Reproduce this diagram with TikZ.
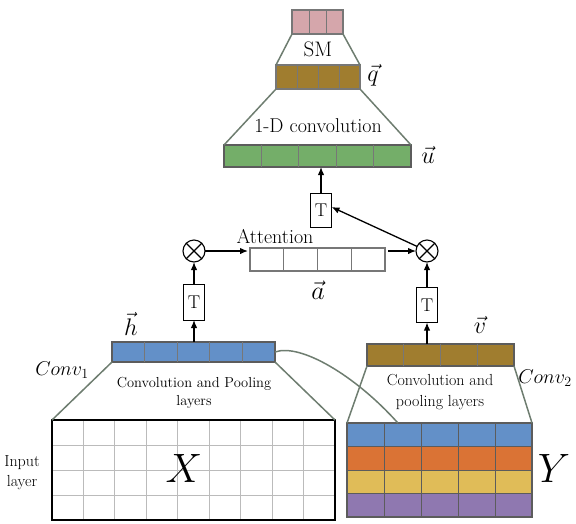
\RequirePackage{fix-cm}
\documentclass[tikz,border=0pt]{standalone}
\usepackage{fontspec}
\usetikzlibrary{arrows.meta,calc}
\definecolor{smpink}{HTML}{D5A6AB}
\definecolor{qbrown}{HTML}{A07D2F}
\definecolor{ugreen}{HTML}{74AE69}
\definecolor{hblue}{HTML}{6390C8}
\definecolor{yorange}{HTML}{DA7335}
\definecolor{yyellow}{HTML}{E0BC58}
\definecolor{ypurple}{HTML}{8F78B0}
\definecolor{edgegray}{HTML}{5C5C5C}
\definecolor{trapgray}{HTML}{6E7D70}
\definecolor{cellgray}{HTML}{777777}
\definecolor{gridgray}{HTML}{BBBBBB}

\tikzset{
  thickbar/.style={draw=edgegray, line width=2.6pt, inner sep=0pt, outer sep=0pt, rectangle},
  thinbar/.style={draw=cellgray, line width=1.2pt, inner sep=0pt, outer sep=0pt, rectangle},
  divider/.style={draw=cellgray, line width=0.9pt},
  trap/.style={draw=trapgray, line width=1.5pt},
  tbox/.style={draw=black, line width=0.8pt, fill=white, minimum width=21pt, inner sep=0pt, outer sep=0pt, font=\fontsize{18.5}{18.5}\selectfont},
  otimesnode/.style={draw=black, line width=1.1pt, circle, minimum size=22pt, inner sep=0pt, outer sep=0pt, fill=white},
  arr/.style={-{Latex[length=8pt,width=6.5pt]}, line width=1.3pt},
  lbl/.style={inner sep=0pt, align=center},
}

\newcommand{\cellbar}[8]{%
  \node[#8, fill=#7, minimum width=#4pt, minimum height=#5pt] (#1) at (#2,#3) {};
  \pgfmathtruncatemacro{\cbm}{#6-1}
  \foreach \i in {1,...,\cbm}{
    \draw[divider] ($(#1.north west)!\i/#6!(#1.north east)$) -- ($(#1.south west)!\i/#6!(#1.south east)$);
  }
}

\begin{document}
\begin{tikzpicture}[x=1pt,y=-1pt]
\useasboundingbox (0,0) rectangle (576,523);

% bars
\cellbar{sm}{317.5}{22}{51}{24}{3}{smpink}{thinbar}
\cellbar{q}{318}{77}{84}{24}{4}{qbrown}{thinbar}
\cellbar{u}{317.5}{156}{187}{22}{5}{ugreen}{thickbar}
\cellbar{att}{317.5}{259.5}{135}{23}{4}{white}{thinbar}
\cellbar{h}{193.5}{352}{163}{20}{5}{hblue}{thickbar}
\cellbar{v}{440.5}{355}{147}{22}{4}{qbrown}{thickbar}

% X input grid
\node[draw=none, fill=white, minimum width=283pt, minimum height=100pt, inner sep=0pt, outer sep=0pt] (X) at (193.5,470) {};
\foreach \k in {1,...,8}
  \draw[gridgray, line width=1pt] ($(X.north west)!\k/9!(X.north east)$) -- ($(X.south west)!\k/9!(X.south east)$);
\foreach \k in {1,...,3}
  \draw[gridgray, line width=1pt] ($(X.north west)!\k/4!(X.south west)$) -- ($(X.north east)!\k/4!(X.south east)$);
\draw[black, line width=2.6pt] (X.north west) rectangle (X.south east);

% Y grid
\node[draw=none, minimum width=185pt, minimum height=94pt, inner sep=0pt, outer sep=0pt] (Y) at (439.5,470) {};
\foreach \c [count=\r from 0] in {hblue,yorange,yyellow,ypurple}
  \fill[\c] ($(Y.north west)+(0,\r*23.5)$) rectangle ($(Y.north east)+(0,\r*23.5+23.5)$);
\foreach \k in {1,...,4}
  \draw[edgegray, line width=0.9pt] ($(Y.north west)!\k/5!(Y.north east)$) -- ($(Y.south west)!\k/5!(Y.south east)$);
\foreach \k in {1,...,3}
  \draw[edgegray, line width=0.9pt] ($(Y.north west)!\k/4!(Y.south west)$) -- ($(Y.north east)!\k/4!(Y.south east)$);
\draw[edgegray, line width=1.2pt] (Y.north west) rectangle (Y.south east);

% trapezoids
\draw[trap] (sm.south west) -- (q.north west) (sm.south east) -- (q.north east);
\draw[trap] (q.south west) -- (u.north west) (q.south east) -- (u.north east);
\draw[trap] (h.south west) -- (X.north west) (h.south east) -- (X.north east);
\draw[trap] (v.south west) -- (Y.north west) (v.south east) -- (Y.north east);
\coordinate (yhit) at ($(Y.north west)!0.275!(Y.north east)$);
\draw[trap] (h.east) .. controls (300,343) and (355,375) .. (yhit);

% T boxes and otimes
\node[tbox, minimum height=34pt] (Tu) at (321,210) {T};
\node[tbox, minimum height=36pt] (Tl) at (194,302) {T};
\node[tbox, minimum height=35pt] (Tr) at (427,305) {T};
\node[otimesnode] (ol) at (194,251) {};
\node[otimesnode] (or) at (427,251) {};
\draw[line width=1.3pt] (ol.north west) -- (ol.south east) (ol.north east) -- (ol.south west);
\draw[line width=1.3pt] (or.north west) -- (or.south east) (or.north east) -- (or.south west);

% arrows
\draw[arr] (Tu.north) -- (Tu.north |- u.south);
\draw[arr] (or) -- ([yshift=3pt]Tu.east);
\draw[arr] (ol) -- ([xshift=-2pt]ol -| att.west);
\draw[arr, shorten <=3pt] (att.east |- or) -- (or);
\draw[arr] (Tl.north) -- (ol.south);
\draw[arr] (Tr.north) -- (or.south);
\draw[arr] (h.north -| Tl) -- (Tl.south);
\draw[arr] (v.north -| Tr) -- (Tr.south);

% labels
\node[lbl, font=\fontsize{21}{21}\selectfont] (smlbl) at (318,49) {SM};
\node[lbl, font=\fontsize{24}{24}\selectfont] (qlbl) at (373,75) {$\vec{q}$};
\node[lbl, font=\fontsize{20}{20}\selectfont] (convlbl) at (318,126) {1-D convolution};
\node[lbl, font=\fontsize{24}{24}\selectfont] (ulbl) at (428,155) {$\vec{u}$};
\node[lbl, font=\fontsize{20}{20}\selectfont] (attlbl) at (275,237) {Attention};
\node[lbl, font=\fontsize{26}{26}\selectfont] (albl) at (318,290) {$\vec{a}$};
\node[lbl, font=\fontsize{24}{24}\selectfont] (hlbl) at (131,324) {$\vec{h}$};
\node[lbl, font=\fontsize{24}{24}\selectfont] (vlbl) at (480,325) {$\vec{v}$};
\node[lbl, font=\fontsize{20}{20}\selectfont] (c1lbl) at (62,370) {$Conv_1$};
\node[lbl, font=\fontsize{20}{20}\selectfont] (c2lbl) at (545,378) {$Conv_2$};
\node[lbl, font=\fontsize{14.5}{18}\selectfont] (cp1) at (194,393) {Convolution and Pooling\\layers};
\node[lbl, font=\fontsize{16}{21}\selectfont] (cp2) at (440,392) {Convolution and\\pooling layers};
\node[lbl, font=\fontsize{16}{20}\selectfont] (inlbl) at (22,473) {Input\\layer};
\node[lbl, font=\fontsize{41}{41}\selectfont] (xlbl) at (184,468) {$X$};
\node[lbl, font=\fontsize{41}{41}\selectfont] (ylbl) at (554,468) {$Y$};
\end{tikzpicture}
\end{document}
